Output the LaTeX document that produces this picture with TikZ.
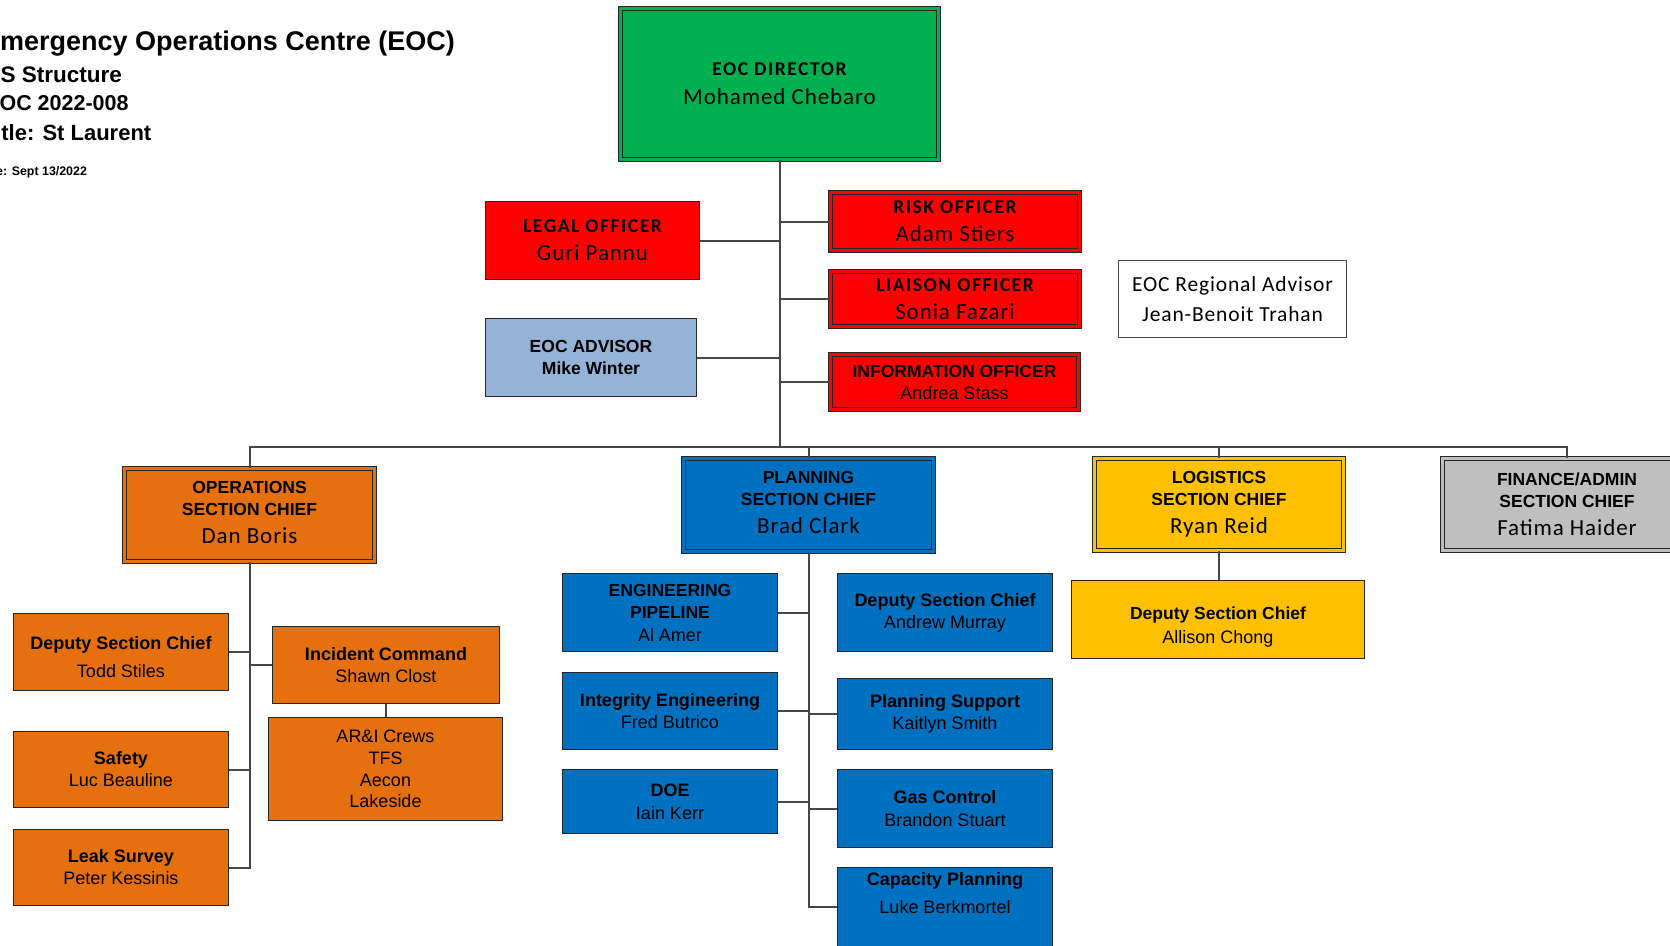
\documentclass[tikz,border=0pt]{standalone}
\usepackage{fontspec}
\setmainfont{Liberation Sans}
\newfontfamily\calibri[LetterSpace=4]{Carlito}
\newfontfamily\calibricaps[LetterSpace=8]{Carlito}
\usetikzlibrary{positioning}
\definecolor{eocGreen}{RGB}{0,176,80}
\definecolor{eocRed}{RGB}{255,0,0}
\definecolor{eocLightBlue}{RGB}{149,179,215}
\definecolor{eocOrange}{RGB}{230,112,14}
\definecolor{eocBlue}{RGB}{0,112,192}
\definecolor{eocGold}{RGB}{255,192,0}
\definecolor{eocGrey}{RGB}{191,191,191}
\definecolor{eocLine}{RGB}{38,38,38}
\definecolor{eocLink}{RGB}{70,70,70}

% text styles used inside the boxes (one per line, lines are grouped)
\newcommand{\officecaps}{\calibricaps\bfseries\fontsize{19.5}{22}\selectfont}
\newcommand{\sectioncaps}{\bfseries\fontsize{17.5}{22}\selectfont}
\newcommand{\leadname}{\calibri\mdseries\fontsize{23}{28}\selectfont}
\newcommand{\unitrole}{\bfseries\fontsize{18}{22}\selectfont}
\newcommand{\unitname}{\mdseries\fontsize{18}{22}\selectfont}
% struts to nudge a text block up or down inside its box
\newcommand{\toppad}[1]{\rule{0pt}{#1}}
\newcommand{\bottompad}[1]{\rule[-#1]{0pt}{#1}}

\begin{document}
\begin{tikzpicture}[
  x=1pt, y=-1pt,
  orgbox/.style={
    draw=eocLine,
    line width=1.3pt,
    inner sep=0pt,
    align=center,
    text=black,
    font=\fontsize{18}{22}\selectfont
  },
  sectionbox/.style={
    orgbox,
    fill=#1,
    double=#1,
    line width=1.2pt,
    double distance=2.4pt
  },
  unitbox/.style={orgbox,fill=#1},
  heading/.style={anchor=base west,inner sep=0pt,font=\fontsize{#1}{#1}\selectfont\bfseries},
  link/.style={draw=eocLink,line width=2pt}
]
  \useasboundingbox (0,0) rectangle (1670,945);

  % heading, runs off the left edge
  \node[heading=27] (title) at (-18,50) {Emergency Operations Centre (EOC)};
  \node[heading=22.5] (subtitle) at (-22,82) {ICS Structure};
  \node[heading=21.5] (eocnumber) at (-15,110) {EOC 2022-008};
  \node[heading=22] (sitetitle) at (-18,140) {Title: St Laurent};
  \node[heading=12.4] (datestamp) at (-24,175) {Date: Sept 13/2022};

  % command staff
  \node[sectionbox=eocGreen,minimum width=318pt,minimum height=151pt] (director) at (779.5,84)
    {\officecaps EOC DIRECTOR\\[7pt]\leadname Mohamed Chebaro};
  \node[unitbox=eocRed,minimum width=214pt,minimum height=78pt] (legal) at (592.5,240.5)
    {\officecaps LEGAL OFFICER\\[6pt]\leadname Guri Pannu};
  \node[unitbox=eocLightBlue,minimum width=211pt,minimum height=78pt] (advisor) at (591,357.5)
    {\sectioncaps EOC ADVISOR\\\sectioncaps Mike Winter};
  \node[sectionbox=eocRed,minimum width=249pt,minimum height=58pt] (risk) at (955,221.5)
    {\officecaps RISK OFFICER\\[6pt]\leadname Adam Stiers};
  \node[sectionbox=eocRed,minimum width=249pt,minimum height=55pt] (liaison) at (955,299)
    {\officecaps LIAISON OFFICER\\[6pt]\leadname Sonia Fazari};
  \node[sectionbox=eocRed,minimum width=248pt,minimum height=55pt] (info) at (954.5,382)
    {\sectioncaps INFORMATION OFFICER\\\unitname Andrea Stass};
  \node[orgbox,draw=eocLink,fill=white,minimum width=228pt,minimum height=77pt,
    font=\calibri\fontsize{21.5}{30}\selectfont] (regional) at (1232.5,299)
    {EOC Regional Advisor\\Jean-Benoit Trahan};

  % section chiefs
  \node[sectionbox=eocOrange,minimum width=250pt,minimum height=93pt] (ops) at (249.5,515)
    {\sectioncaps OPERATIONS\\\sectioncaps SECTION CHIEF\\[6pt]\leadname Dan Boris\bottompad{5.5pt}};
  \node[sectionbox=eocBlue,minimum width=250pt,minimum height=93pt] (planning) at (808.5,505)
    {\sectioncaps PLANNING\\\sectioncaps SECTION CHIEF\\[6pt]\leadname Brad Clark\bottompad{4.5pt}};
  \node[sectionbox=eocGold,minimum width=249pt,minimum height=92pt] (logistics) at (1219,504.5)
    {\sectioncaps LOGISTICS\\\sectioncaps SECTION CHIEF\\[6pt]\leadname Ryan Reid};
  \node[sectionbox=eocGrey,minimum width=249pt,minimum height=92pt] (finance) at (1567,504.5)
    {\sectioncaps FINANCE/ADMIN\\\sectioncaps SECTION CHIEF\\[6pt]\leadname Fatima Haider};

  % operations units
  \node[unitbox=eocOrange,minimum width=215pt,minimum height=77pt] (odeputy) at (121,652)
    {\unitrole\toppad{24pt}Deputy Section Chief\\[6pt]\unitname Todd Stiles};
  \node[unitbox=eocOrange,minimum width=215pt,minimum height=76pt] (safety) at (121,769.5)
    {\unitrole Safety\\\unitname Luc Beauline};
  \node[unitbox=eocOrange,minimum width=215pt,minimum height=76pt] (leak) at (121,867.5)
    {\unitrole Leak Survey\\\unitname Peter Kessinis};
  \node[unitbox=eocOrange,minimum width=227pt,minimum height=77pt] (incident) at (386,665)
    {\unitrole Incident Command\\\unitname Shawn Clost};
  \node[unitbox=eocOrange,minimum width=234pt,minimum height=103pt,
    font=\fontsize{18}{21.7}\selectfont] (crews) at (385.5,769)
    {AR\&I Crews\\TFS\\Aecon\\Lakeside};

  % planning units
  \node[unitbox=eocBlue,minimum width=215pt,minimum height=78pt] (engineering) at (670,612.5)
    {\sectioncaps ENGINEERING\\\sectioncaps PIPELINE\\[1pt]\unitname Al Amer};
  \node[unitbox=eocBlue,minimum width=215pt,minimum height=77pt] (integrity) at (670,711)
    {\unitrole Integrity Engineering\\\unitname Fred Butrico};
  \node[unitbox=eocBlue,minimum width=215pt,minimum height=64pt] (doe) at (670,801.5)
    {\unitrole DOE\\[1pt]\unitname Iain Kerr};
  \node[unitbox=eocBlue,minimum width=215pt,minimum height=78pt] (pdeputy) at (945,612.5)
    {\unitrole Deputy Section Chief\\\unitname Andrew Murray};
  \node[unitbox=eocBlue,minimum width=215pt,minimum height=71pt] (support) at (945,714)
    {\unitrole Planning Support\\\unitname Kaitlyn Smith};
  \node[unitbox=eocBlue,minimum width=215pt,minimum height=78pt] (gas) at (945,808.5)
    {\unitrole Gas Control\\[1pt]\unitname Brandon Stuart};
  \node[unitbox=eocBlue,minimum width=215pt,anchor=north,inner ysep=5pt,text depth=70pt] (capacity) at (945,867)
    {\unitrole Capacity Planning\\[6pt]\unitname Luke Berkmortel};

  % logistics unit
  \node[unitbox=eocGold,minimum width=293pt,minimum height=78pt] (ldeputy) at (1218,619.5)
    {\bfseries\fontsize{17.5}{22}\selectfont\toppad{27pt}Deputy Section Chief\\[2pt]\unitname Allison Chong};

  % reporting lines
  \coordinate (bar) at (0,447);
  \coordinate (capline) at ([yshift=-40pt]capacity.north west);
  \draw[link] (director.south) -- (director.south |- bar);
  \draw[link] (ops.north) -- (ops.north |- bar) -- (finance.north |- bar) -- (finance.north);
  \draw[link] (planning.north) -- (planning.north |- bar);
  \draw[link] (logistics.north) -- (logistics.north |- bar);
  \foreach \staff in {legal,advisor}
    \draw[link] (\staff.east) -- (\staff.east -| director.south);
  \foreach \staff in {risk,liaison,info}
    \draw[link] (\staff.west) -- (\staff.west -| director.south);

  \draw[link] (ops.south) |- (leak.east);
  \foreach \unit in {odeputy,safety}
    \draw[link] (\unit.east) -- (\unit.east -| ops.south);
  \draw[link] (incident.west) -- (incident.west -| ops.south);
  \draw[link] (incident.south) -- (incident.south |- crews.north);

  \draw[link] (planning.south) |- (capline);
  \foreach \unit in {engineering,integrity,doe}
    \draw[link] (\unit.east) -- (\unit.east -| planning.south);
  \foreach \unit in {support,gas}
    \draw[link] (\unit.west) -- (\unit.west -| planning.south);

  \draw[link] (logistics.south) -- (logistics.south |- ldeputy.north);
\end{tikzpicture}
\end{document}
